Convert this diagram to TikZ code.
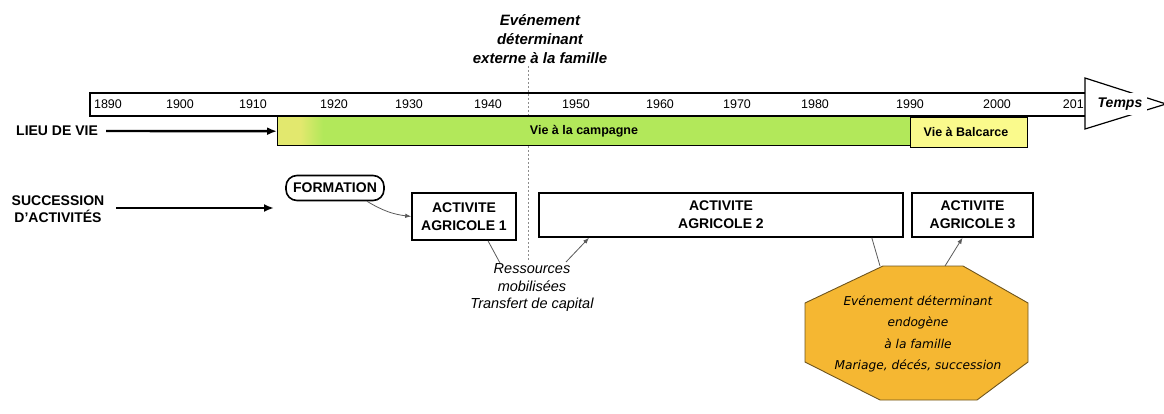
\documentclass[tikz,border=0pt]{standalone}
\usepackage{fontspec}
\setmainfont{Liberation Sans}
\newfontfamily\octfont{DejaVu Sans}
\usetikzlibrary{arrows.meta,calc}
\definecolor{limebar}{RGB}{178,232,90}
\definecolor{limeleft}{RGB}{226,232,110}
\definecolor{balyellow}{RGB}{250,250,140}
\definecolor{octorange}{RGB}{245,183,50}
\definecolor{octborder}{RGB}{110,85,30}
\begin{document}
\begin{tikzpicture}[x=1pt,y=-1pt,
  year/.style={font=\fontsize{12.5}{14}\selectfont, inner sep=0pt},
  barlabel/.style={font=\bfseries\fontsize{12.5}{14}\selectfont, inner sep=0pt},
  sidelabel/.style={font=\bfseries\fontsize{14}{17}\selectfont, align=center, inner sep=0pt},
  actbox/.style={draw, line width=1.6pt, align=center, inner sep=0pt,
    font=\bfseries\fontsize{14}{18}\selectfont},
  note/.style={font=\itshape\fontsize{14.5}{17.5}\selectfont, align=center, inner sep=0pt},
  thickarrow/.style={line width=2.4pt, -{Latex[length=10pt,width=8pt]}},
  thinlink/.style={draw=black!65, line width=0.8pt},
  thinarrow/.style={draw=black!65, line width=0.8pt, -{Latex[length=6pt,width=4.5pt]}}
]
\useasboundingbox (0,0) rectangle (1164,414);

% external event dashed marker
\coordinate (d1) at (528,66);
\coordinate (d2) at (528,262);
\draw[black!45, line width=0.8pt, dash pattern=on 2pt off 2pt] (d1) -- (d2);
\node[note, font=\bfseries\itshape\fontsize{15}{19}\selectfont] (extern) at (540,39)
  {Evénement\\déterminant\\externe à la famille};

% timeline bar
\draw[line width=1.2pt] (1085,93) -- (90,93) -- (90,116) -- (1085,116);
\draw[line width=1.2pt, fill=white] (1085,78) -- (1166,104) -- (1085,129) -- cycle;
\node[fill=white, inner sep=0pt, minimum width=54pt, minimum height=22pt,
  font=\bfseries\itshape\fontsize{14}{17}\selectfont] (temps) at (1120,104) {Temps};

\node[year] (y1890) at (108,104) {1890};
\node[year] (y1900) at (180,104) {1900};
\node[year] (y1910) at (253,104) {1910};
\node[year] (y1920) at (334,104) {1920};
\node[year] (y1930) at (409,104) {1930};
\node[year] (y1940) at (488,104) {1940};
\node[year] (y1950) at (576,104) {1950};
\node[year] (y1960) at (660,104) {1960};
\node[year] (y1970) at (737,104) {1970};
\node[year] (y1980) at (815,104) {1980};
\node[year] (y1990) at (910,104) {1990};
\node[year] (y2000) at (997,104) {2000};
\node[year, anchor=east] (y2010) at (1084,104) {201};

% place of life
\node[fill=limebar, anchor=north west, inner sep=0pt,
  minimum width=633pt, minimum height=28pt] (campagne) at (277,117) {};
\fill[limeleft] (campagne.north west) rectangle ([xshift=24pt]campagne.south west);
\shade[left color=limeleft, right color=limebar]
  ([xshift=23.5pt]campagne.north west) rectangle ([xshift=46pt]campagne.south west);
\draw[line width=1pt] (campagne.north west) rectangle (campagne.south east);
\node[barlabel] (campagnetxt) at (584,131) {Vie à la campagne};
\node[draw, line width=1pt, fill=balyellow, anchor=north west, inner sep=0pt,
  minimum width=117pt, minimum height=30pt] (balcarce) at (910,117) {};
\node[barlabel] (balcarcetxt) at (966,132) {Vie à Balcarce};

\node[sidelabel, anchor=west] (lieu) at (16,131) {LIEU DE VIE};
\draw[thickarrow] (lieu.east) ++(8,0) -- (campagne.west);

% succession of activities
\node[sidelabel] (succ) at (58,209) {SUCCESSION\\D'ACTIVITÉS};
\coordinate (succend) at (274,208);
\draw[thickarrow] ($(succ.east)+(12,-1)$) -- (succend);

\node[draw, line width=1.6pt, rounded corners=11pt, inner sep=0pt,
  minimum width=98pt, minimum height=25pt,
  font=\bfseries\fontsize{14}{17}\selectfont] (form) at (335,188) {FORMATION};
\node[actbox, minimum width=104pt, minimum height=47pt] (aa1) at (464,216.5) {ACTIVITE\\AGRICOLE 1};
\node[actbox, minimum width=364pt, minimum height=44pt] (aa2) at (721,215) {ACTIVITE\\AGRICOLE 2};
\node[actbox, minimum width=121pt, minimum height=44pt] (aa3) at (972.5,215) {ACTIVITE\\AGRICOLE 3};

\draw[thinarrow] ([xshift=32pt]form.south) to[bend right=12] (aa1.west);

% resources
\node[note] (res) at (532,288) {Ressources\\mobilisées\\Transfert de capital};
\coordinate (r1) at (500,263);
\coordinate (r2) at (566,262);
\draw[thinlink] ([xshift=24pt]aa1.south) -- (r1);
\draw[thinarrow] (r2) -- ([xshift=-132pt]aa2.south);

% endogenous event octagon
\coordinate (o1) at (883,266);
\coordinate (o2) at (963,266);
\coordinate (o3) at (1028,303);
\coordinate (o4) at (1028,362);
\coordinate (o5) at (977,400);
\coordinate (o6) at (880,400);
\coordinate (o7) at (805,362);
\coordinate (o8) at (805,303);
\draw[fill=octorange, draw=octborder, line width=0.9pt]
  (o1) -- (o2) -- (o3) -- (o4) -- (o5) -- (o6) -- (o7) -- (o8) -- cycle;
\node[align=center, inner sep=0pt, font=\octfont\itshape\fontsize{12.2}{21.5}\selectfont] (endo)
  at (918,334) {Evénement déterminant\\endogène\\à la famille\\Mariage, décés, succession};

\draw[thinlink] ([xshift=-3pt]o1) -- ([xshift=-32pt]aa2.south east);
\draw[thinarrow] ([xshift=-18pt]o2) -- ([xshift=-10pt]aa3.south);
\end{tikzpicture}
\end{document}
